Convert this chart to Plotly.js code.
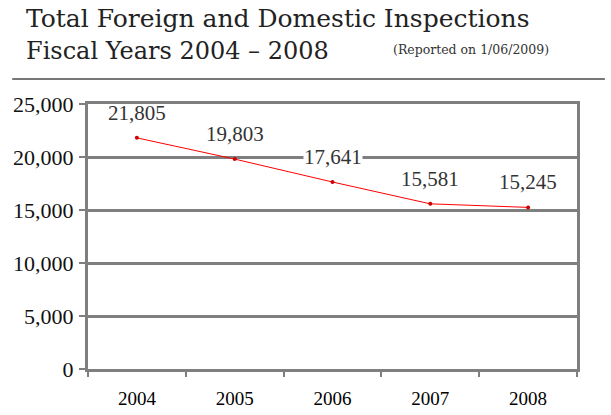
<!DOCTYPE html>
<html><head><meta charset="utf-8">
<script src="https://cdn.plot.ly/plotly-3.0.1.min.js"></script>
<style>html,body{margin:0;padding:0;background:#fff}#c{width:611px;height:415px}</style>
</head><body><div id="c"></div>
<script>
const years = ['2004','2005','2006','2007','2008'];
const inspections = [21805, 19803, 17641, 15581, 15245];
const yTicks = [0, 5000, 10000, 15000, 20000, 25000];
const yTickLabels = ['0','5,000','10,000','15,000','20,000','25,000'];
const valueLabels = ['21,805','19,803','17,641','15,581','15,245'];

const serif = 'Liberation Serif, Times New Roman, serif';
const titleFont = 'DejaVu Serif, serif';
const grid = '#7f7f7f';

const trace = {
  x: years, y: inspections, type: 'scatter', mode: 'lines+markers',
  line: {color: '#ff0000', width: 1},
  marker: {color: '#cc0000', size: 4},
  hoverinfo: 'none'
};

const annotations = years.map((yr, i) => ({
  x: i, y: inspections[i], xref: 'x', yref: 'y',
  text: valueLabels[i], showarrow: false, yshift: 25,
  bgcolor: i === 2 ? '#ffffff' : 'rgba(0,0,0,0)', borderpad: 0,
  font: {family: serif, size: 21, color: '#333333'}
}));
annotations.push(
  {xref: 'paper', yref: 'paper', x: -0.13, y: 1.322, xanchor: 'left', yanchor: 'middle',
   text: 'Total Foreign and Domestic Inspections', showarrow: false,
   font: {family: titleFont, size: 25, color: '#222'}},
  {xref: 'paper', yref: 'paper', x: -0.13, y: 1.2, xanchor: 'left', yanchor: 'middle',
   text: 'Fiscal Years 2004 – 2008', showarrow: false,
   font: {family: titleFont, size: 24, color: '#222'}},
  {xref: 'paper', yref: 'paper', x: 0.62, y: 1.205, xanchor: 'left', yanchor: 'middle',
   text: '(Reported on 1/06/2009)', showarrow: false,
   font: {family: titleFont, size: 12.5, color: '#333'}}
);

const layout = {
  width: 611, height: 415,
  margin: {l: 88, r: 34, t: 104, b: 46},
  paper_bgcolor: '#fff', plot_bgcolor: '#fff',
  showlegend: false,
  xaxis: {
    type: 'category', range: [-0.5, 4.5], showgrid: false, tickson: 'boundaries',
    ticks: 'outside', ticklen: 5, tickwidth: 2, tickcolor: grid,
    showline: true, linecolor: grid, linewidth: 3, mirror: true,
    tickfont: {family: serif, size: 19, color: '#000'},
    ticklabelstandoff: 10,
    zeroline: false, fixedrange: true
  },
  yaxis: {
    range: [0, 25000], tickvals: yTicks, ticktext: yTickLabels,
    showgrid: true, gridcolor: grid, gridwidth: 3,
    ticks: 'outside', ticklen: 6, tickwidth: 2, tickcolor: grid,
    showline: true, linecolor: grid, linewidth: 3, mirror: true,
    tickfont: {family: serif, size: 22, color: '#111'},
    ticklabelstandoff: 1,
    zeroline: false, fixedrange: true
  },
  annotations: annotations,
  shapes: [{type: 'line', xref: 'paper', yref: 'paper',
    x0: -0.155, x1: 1.057, y0: 1.094, y1: 1.094,
    line: {color: '#777', width: 2}}]
};

Plotly.newPlot('c', [trace], layout, {staticPlot: true, displayModeBar: false});
</script></body></html>
